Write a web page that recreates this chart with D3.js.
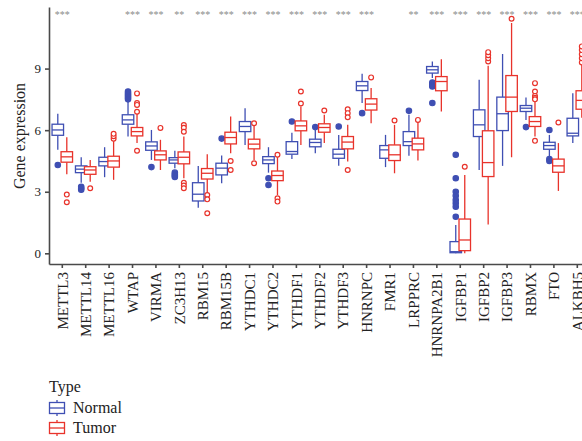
<!DOCTYPE html>
<html lang="en">
<head>
<meta charset="UTF-8">
<title>Gene expression boxplot</title>
<script src="https://d3js.org/d3.v7.min.js"></script>
<style>
    body { margin: 0; padding: 0; background: #fff; overflow: hidden; }
    svg, svg text { font-family: "Liberation Serif", "Times New Roman", serif; }
    .axis path, .axis line { stroke: #4a4a4a; stroke-width: 1.6; }
    .axis text { fill: #222; }
</style>
</head>
<body>
<div id="chart"></div>
<script>
    // genes and significance marks
    const genes = ["METTL3", "METTL14", "METTL16", "WTAP", "VIRMA", "ZC3H13", "RBM15", "RBM15B",
        "YTHDC1", "YTHDC2", "YTHDF1", "YTHDF2", "YTHDF3", "HNRNPC", "FMR1", "LRPPRC", "HNRNPA2B1",
        "IGFBP1", "IGFBP2", "IGFBP3", "RBMX", "FTO", "ALKBH5"];
    const signif = ["***", "", "", "***", "***", "**", "***", "***", "***", "***", "***", "***",
        "***", "***", "", "**", "***", "***", "***", "***", "***", "***", "***"];

    // Normal: [lower whisker, q1, median, q3, upper whisker]
    const normalStats = [
        [5.05, 5.75, 6.01, 6.29, 6.8], [3.44, 3.93, 4.1, 4.26, 4.68], [3.71, 4.26, 4.47, 4.68, 5.17],
        [5.69, 6.29, 6.5, 6.75, 7.44], [4.55, 5.02, 5.23, 5.43, 6.01], [4.15, 4.39, 4.55, 4.66, 5.0],
        [2.22, 2.55, 2.88, 3.44, 4.26], [3.41, 3.82, 4.15, 4.39, 4.76], [5.28, 5.93, 6.18, 6.42, 7.07],
        [3.93, 4.37, 4.55, 4.71, 5.17], [4.59, 4.83, 4.96, 5.44, 5.88], [4.88, 5.19, 5.4, 5.56, 6.01],
        [4.27, 4.63, 4.83, 5.07, 5.77], [7.32, 7.93, 8.16, 8.37, 8.75], [4.2, 4.63, 5.04, 5.25, 5.77],
        [4.75, 5.25, 5.44, 5.93, 6.75], [8.54, 8.78, 8.94, 9.1, 9.35], [0.0, 0.03, 0.08, 0.57, 1.38],
        [4.06, 5.69, 6.26, 6.99, 8.45], [4.26, 5.98, 6.8, 7.61, 9.71], [6.5, 6.91, 7.07, 7.2, 7.59],
        [4.71, 5.07, 5.25, 5.41, 5.77], [5.37, 5.72, 5.85, 6.58, 7.8]
    ];
    const normalOut = [
        [4.3], [3.1, 3.17, 3.24], [], [7.5, 7.58, 7.65, 7.72, 7.8, 7.88], [4.2], [3.93, 3.85, 3.78, 3.72],
        [], [5.59], [], [3.66, 3.33], [6.42], [6.15], [6.18], [6.83], [], [6.94],
        [8.32, 8.25, 8.18, 8.13, 7.32], [4.8, 3.66, 3.0, 2.8, 2.6, 2.44, 2.27, 1.78],
        [], [], [6.15], [6.01, 4.59, 4.5], []
    ];

    // Tumor: [lower whisker, q1, median, q3, upper whisker]
    const tumorStats = [
        [3.85, 4.44, 4.7, 4.95, 5.66], [3.49, 3.85, 4.06, 4.22, 4.55], [3.58, 4.2, 4.5, 4.73, 5.48],
        [5.37, 5.72, 5.93, 6.13, 6.83], [4.06, 4.55, 4.8, 4.99, 5.53], [3.66, 4.36, 4.68, 4.94, 5.69],
        [2.93, 3.62, 3.9, 4.13, 4.83], [4.88, 5.33, 5.64, 5.9, 6.66], [4.55, 5.09, 5.32, 5.56, 6.2],
        [2.84, 3.54, 3.79, 4.01, 4.71], [5.28, 5.97, 6.21, 6.45, 7.15], [5.37, 5.9, 6.13, 6.31, 6.75],
        [4.47, 5.09, 5.42, 5.69, 6.26], [6.34, 6.98, 7.27, 7.53, 8.05], [3.9, 4.52, 4.8, 5.28, 6.26],
        [4.52, 5.04, 5.33, 5.61, 6.42], [6.91, 7.92, 8.37, 8.61, 9.46], [0.0, 0.13, 0.65, 1.67, 3.82],
        [1.41, 3.74, 4.42, 5.97, 9.14], [4.68, 6.91, 7.61, 8.66, 11.22], [5.69, 6.18, 6.42, 6.66, 7.4],
        [3.04, 3.95, 4.26, 4.59, 5.37], [6.6, 7.02, 7.45, 7.92, 9.2]
    ];
    const tumorOut = [
        [2.86, 2.49], [3.17], [5.58, 5.7, 5.82], [7.79, 7.32, 7.23, 6.9, 5.0], [6.11],
        [6.25, 6.12, 5.92, 3.44, 3.3, 3.17], [2.84, 2.63, 1.95], [4.5, 4.06], [6.34, 4.39],
        [4.8, 2.68, 2.52], [7.88, 7.3], [6.96], [7.02, 6.83, 6.63, 4.06], [8.57], [6.47], [6.5],
        [], [4.22], [9.35, 9.5, 9.65, 9.8], [11.43], [8.29, 7.88, 7.67, 7.58, 7.5, 5.48], [6.37],
        [9.3, 9.5, 9.7, 9.9, 10.08]
    ];

    const yTicks = [0, 3, 6, 9];
    const typeNames = ["Normal", "Tumor"];
    const colors = { Normal: "#3f4fb3", Tumor: "#e8332b" };

    const W = 582, H = 441;
    const svg = d3.select("#chart").append("svg")
        .attr("width", W).attr("height", H);

    // scales
    const x = d3.scaleBand().domain(genes).range([49, 590.6])
        .paddingInner(0).paddingOuter(0.068);
    const y = d3.scaleLinear().domain([-0.52, 12]).range([264, 7]);

    const boxW = 11.5, offset = 4.5;

    // significance labels
    svg.append("g").selectAll("text")
        .data(genes)
        .enter().append("text")
        .attr("x", d => x(d) + x.bandwidth() / 2)
        .attr("y", 18)
        .attr("text-anchor", "middle")
        .attr("fill", "#8a8a8a")
        .style("font-size", "10px")
        .text((d, i) => signif[i]);

    // boxes
    function drawGroup(stats, outs, type, dx) {
        const col = colors[type];
        const g = svg.append("g").attr("class", type);
        genes.forEach((gene, i) => {
            const cx = x(gene) + x.bandwidth() / 2 + dx;
            const [lo, q1, med, q3, hi] = stats[i];
            const gg = g.append("g");
            gg.append("line")
                .attr("x1", cx).attr("x2", cx)
                .attr("y1", y(hi)).attr("y2", y(q3))
                .attr("stroke", col).attr("stroke-width", 1.3);
            gg.append("line")
                .attr("x1", cx).attr("x2", cx)
                .attr("y1", y(q1)).attr("y2", y(lo))
                .attr("stroke", col).attr("stroke-width", 1.3);
            gg.append("rect")
                .attr("x", cx - boxW / 2).attr("width", boxW)
                .attr("y", y(q3)).attr("height", y(q1) - y(q3))
                .attr("fill", "#fff").attr("stroke", col).attr("stroke-width", 1.3);
            gg.append("line")
                .attr("x1", cx - boxW / 2).attr("x2", cx + boxW / 2)
                .attr("y1", y(med)).attr("y2", y(med))
                .attr("stroke", col).attr("stroke-width", 1.3);
            gg.selectAll("circle")
                .data(outs[i])
                .enter().append("circle")
                .attr("cx", cx).attr("cy", d => y(d))
                .attr("r", type === "Normal" ? 2.7 : 2.4)
                .attr("fill", type === "Normal" ? col : "#fff")
                .attr("stroke", col).attr("stroke-width", 1.2);
        });
    }
    drawGroup(normalStats, normalOut, "Normal", -offset);
    drawGroup(tumorStats, tumorOut, "Tumor", offset);

    // axes
    const yAxis = svg.append("g")
        .attr("class", "axis")
        .attr("transform", "translate(49,0)")
        .call(d3.axisLeft(y).tickValues(yTicks).tickSize(4).tickSizeOuter(0))
        .attr("font-family", null);
    yAxis.selectAll("text").style("font-size", "13px").attr("dx", "-1px");

    const xAxis = svg.append("g")
        .attr("class", "axis")
        .attr("transform", "translate(0,264)")
        .call(d3.axisBottom(x).tickSize(4).tickSizeOuter(0))
        .attr("font-family", null);
    xAxis.selectAll("text")
        .style("font-size", "15px")
        .attr("text-anchor", "end")
        .attr("transform", "rotate(-90)")
        .attr("x", -8)
        .attr("y", 0)
        .attr("dy", "0.35em");

    // y title
    svg.append("text")
        .attr("transform", "translate(25,136) rotate(-90)")
        .attr("text-anchor", "middle")
        .attr("fill", "#222")
        .style("font-size", "16px")
        .text("Gene expression");

    // legend
    const legend = svg.append("g").attr("transform", "translate(49,0)");
    legend.append("text")
        .attr("x", 0).attr("y", 392)
        .attr("fill", "#222")
        .style("font-size", "16px")
        .text("Type");

    typeNames.forEach((t, i) => {
        const cy = 408 + i * 20;
        const col = colors[t];
        const k = legend.append("g");
        k.append("line")
            .attr("x1", 8).attr("x2", 8)
            .attr("y1", cy - 8).attr("y2", cy + 8)
            .attr("stroke", col).attr("stroke-width", 1.3);
        k.append("rect")
            .attr("x", 0.5).attr("y", cy - 5.5)
            .attr("width", 15).attr("height", 11)
            .attr("fill", "#fff").attr("stroke", col).attr("stroke-width", 1.3);
        k.append("line")
            .attr("x1", 0.5).attr("x2", 15.5)
            .attr("y1", cy).attr("y2", cy)
            .attr("stroke", col).attr("stroke-width", 1.3);
        legend.append("text")
            .attr("x", 24).attr("y", cy + 5)
            .attr("fill", "#222")
            .style("font-size", "16px")
            .text(t);
    });
</script>
</body>
</html>
